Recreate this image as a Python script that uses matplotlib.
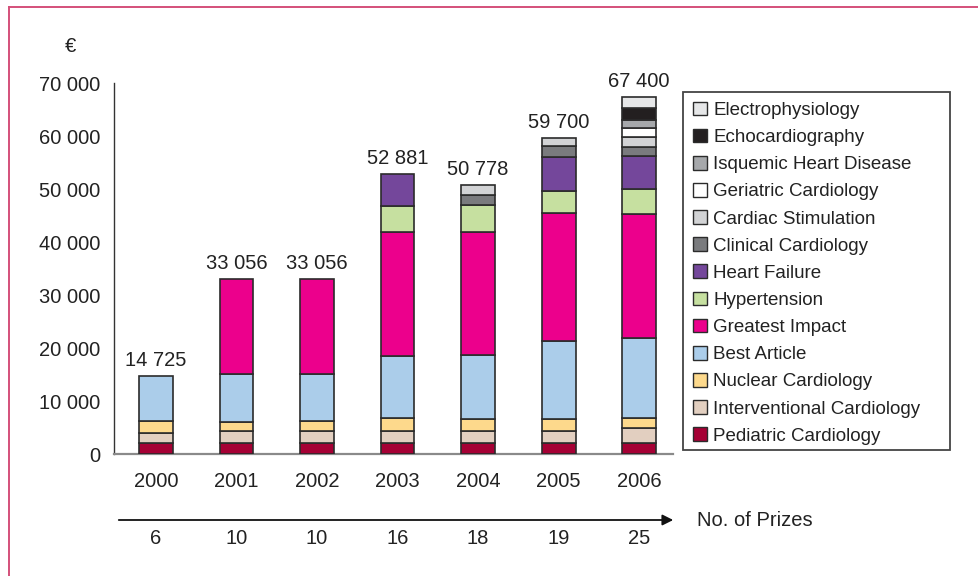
import matplotlib
matplotlib.use("Agg")
from matplotlib import pyplot as plt
from matplotlib import transforms
from matplotlib.lines import Line2D
from matplotlib.patches import Patch, Rectangle, FancyArrowPatch

plt.rcParams['font.family'] = ['Liberation Sans', 'DejaVu Sans']

years = ['2000', '2001', '2002', '2003', '2004', '2005', '2006']
prizes = [6, 10, 10, 16, 18, 19, 25]
totals = ['14 725', '33 056', '33 056', '52 881', '50 778', '59 700', '67 400']

# stacking order, bottom to top
categories = ['Pediatric Cardiology', 'Interventional Cardiology', 'Nuclear Cardiology',
              'Best Article', 'Greatest Impact', 'Hypertension', 'Heart Failure',
              'Clinical Cardiology', 'Cardiac Stimulation', 'Geriatric Cardiology',
              'Isquemic Heart Disease', 'Echocardiography', 'Electrophysiology']
colors = ['#a50034', '#e2cfc0', '#fdd98c', '#abcdea', '#ec008c', '#c6e0a0', '#74479b',
          '#7a7b7e', '#d2d3d5', '#ffffff', '#a6a8ab', '#231f20', '#e6e7e8']

pediatric      = [2130, 2130, 2130, 2130, 2130, 2130, 2130]
interventional = [1770, 2210, 2210, 2210, 2210, 2270, 2720]
nuclear        = [2270, 1700, 1940, 2400, 2260, 2200, 1880]
best_article   = [8555, 9050, 8810, 11810, 12020, 14720, 15100]
greatest       = [0, 17966, 17966, 23400, 23330, 24210, 23400]
hypertension   = [0, 0, 0, 4780, 5030, 4090, 4710]
heart_failure  = [0, 0, 0, 6151, 0, 6480, 6290]
clinical       = [0, 0, 0, 0, 1890, 2010, 1750]
cardiac_stim   = [0, 0, 0, 0, 1908, 1590, 1890]
geriatric      = [0, 0, 0, 0, 0, 0, 1580]
isquemic       = [0, 0, 0, 0, 0, 0, 1570]
echo           = [0, 0, 0, 0, 0, 0, 2320]
electro        = [0, 0, 0, 0, 0, 0, 2060]

series = [pediatric, interventional, nuclear, best_article, greatest, hypertension,
          heart_failure, clinical, cardiac_stim, geriatric, isquemic, echo, electro]

fig = plt.figure(figsize=(9.79, 5.76), dpi=100)
ax = fig.add_axes([0.1164, 0.2118, 0.5710, 0.6441])

x = list(range(len(years)))
bottom = [0] * len(years)
for vals, col in zip(series, colors):
    xs = [xi for xi, v in zip(x, vals) if v > 0]
    hs = [v for v in vals if v > 0]
    bs = [b for b, v in zip(bottom, vals) if v > 0]
    ax.bar(xs, hs, bottom=bs, width=0.42, color=col, edgecolor='#2b2b2b', linewidth=1.2, zorder=3)
    bottom = [b + v for b, v in zip(bottom, vals)]

for xi, top, lab in zip(x, bottom, totals):
    ax.annotate(lab, xy=(xi, top), xytext=(0, 4), textcoords='offset points',
                ha='center', va='bottom', fontsize=14.5, color='#222222')

ax.set_xlim(-0.522, 6.42)
ax.set_ylim(0, 70000)
ax.set_yticks(range(0, 70001, 10000))
ax.set_yticklabels(['0', '10 000', '20 000', '30 000', '40 000', '50 000', '60 000', '70 000'])
ax.set_xticks(x)
ax.set_xticklabels(years)
ax.tick_params(axis='both', length=0, labelsize=14.5, labelcolor='#222222')
ax.tick_params(axis='y', pad=10)
ax.tick_params(axis='x', pad=13)
for s in ['top', 'right']:
    ax.spines[s].set_visible(False)
ax.spines['left'].set_color('#333333')
ax.spines['left'].set_linewidth(1.0)
ax.spines['bottom'].set_color('#8a8a8a')
ax.spines['bottom'].set_linewidth(1.6)

fig.text(0.0715, 1 - 47 / 576, '€', ha='center', va='center', fontsize=14.5, color='#222222')

# legend box, drawn by hand
fig.add_artist(Rectangle((683 / 979, 1 - 450 / 576), (950 - 683) / 979, (450 - 92) / 576,
                         transform=fig.transFigure, facecolor='white', edgecolor='#444444',
                         linewidth=1.3, zorder=1))
handles = [Patch(facecolor=c, edgecolor='#2b2b2b', linewidth=1.0) for c in colors][::-1]
leg = fig.legend(handles, categories[::-1], loc='upper left',
                 bbox_to_anchor=(685 / 979, 1 - 94 / 576), bbox_transform=fig.transFigure,
                 fontsize=13.5, frameon=False, handlelength=0.75,
                 handleheight=0.75, handletextpad=0.35, labelspacing=0.52, borderpad=0.4,
                 borderaxespad=0)
leg.set_zorder(2)
for t in leg.get_texts():
    t.set_color('#222222')

# prizes arrow
arr_y = 1 - 520 / 576
fig.add_artist(FancyArrowPatch(
    (116 / 979, arr_y), (676 / 979, arr_y), transform=fig.transFigure,
    arrowstyle='-|>', mutation_scale=16, color='#111111', linewidth=1.3))
fig.text(697 / 979, arr_y, 'No. of Prizes', ha='left', va='center', fontsize=14.5, color='#222222')
trans = transforms.blended_transform_factory(ax.transData, fig.transFigure)
for xi, n in zip(x, prizes):
    ax.text(xi, 1 - 539 / 576, str(n), transform=trans, ha='center', va='center',
            fontsize=14.5, color='#222222')

# page frame
frame_col = '#d4507a'
fig.add_artist(Line2D([9 / 979, 1.0], [1 - 7 / 576, 1 - 7 / 576], transform=fig.transFigure,
                      color=frame_col, linewidth=1.4))
fig.add_artist(Line2D([9 / 979, 9 / 979], [0.0, 1 - 7 / 576], transform=fig.transFigure,
                      color=frame_col, linewidth=1.4))

fig.savefig('out.png', dpi=100)
